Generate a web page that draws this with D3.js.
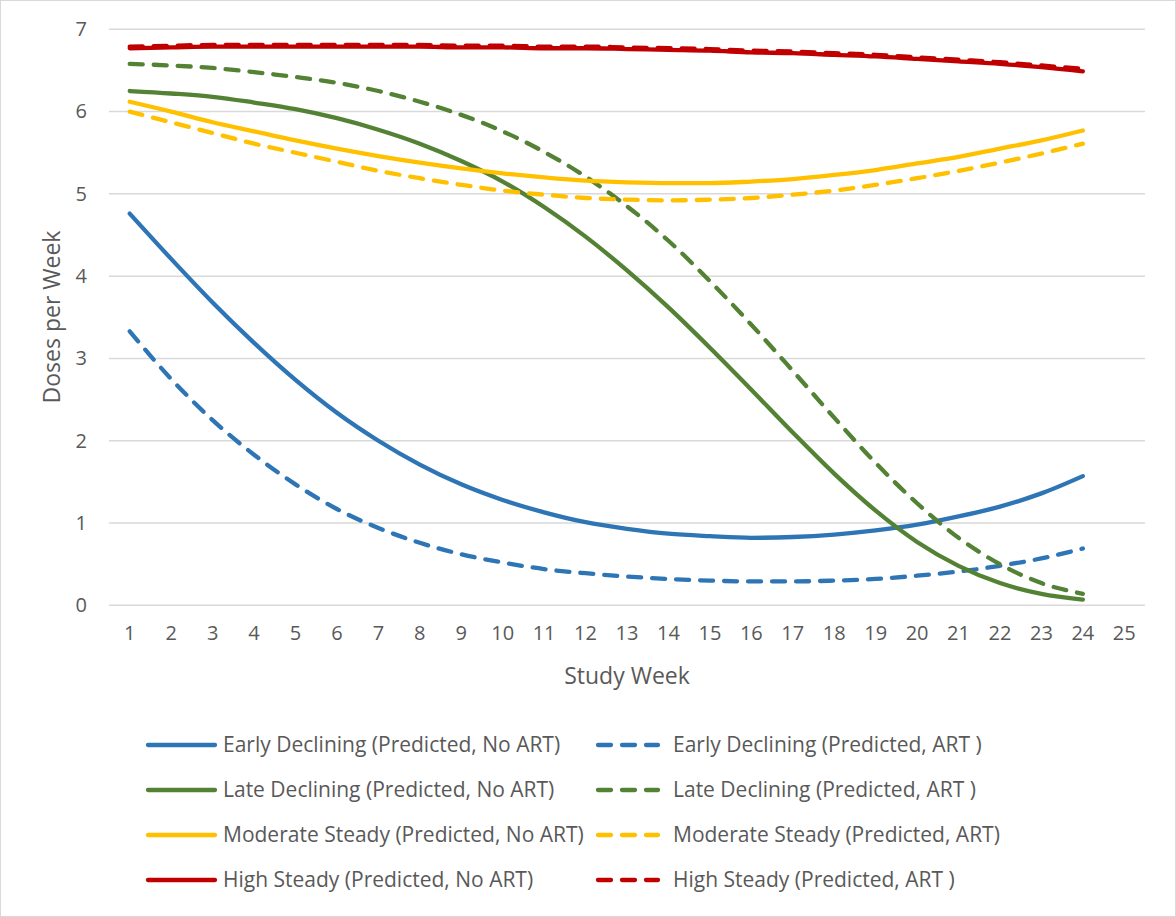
<!DOCTYPE html>
<html><head><meta charset="utf-8">
<script src="https://cdn.jsdelivr.net/npm/d3@7"></script>
<style>
html,body{margin:0;padding:0;background:#fff;}
svg{display:block;}
</style></head>
<body>
<svg id="chart" width="1176" height="917"></svg>
<script>
const weeks = d3.range(1, 26);
const yTicks = [0,1,2,3,4,5,6,7];

const earlyNoArt = [4.76,4.21,3.68,3.19,2.74,2.34,2.00,1.71,1.47,1.28,1.13,1.01,0.93,0.87,0.84,0.82,0.83,0.86,0.91,0.98,1.08,1.20,1.36,1.57];
const earlyArt   = [3.33,2.75,2.25,1.83,1.47,1.17,0.94,0.76,0.62,0.52,0.44,0.39,0.35,0.32,0.30,0.29,0.29,0.30,0.32,0.36,0.41,0.48,0.57,0.69];
const lateNoArt  = [6.25,6.22,6.18,6.11,6.03,5.92,5.78,5.61,5.40,5.15,4.84,4.48,4.07,3.62,3.13,2.62,2.10,1.60,1.15,0.77,0.48,0.27,0.14,0.07];
const lateArt    = [6.58,6.56,6.53,6.48,6.42,6.35,6.25,6.12,5.96,5.76,5.51,5.21,4.85,4.43,3.94,3.41,2.85,2.28,1.73,1.24,0.82,0.50,0.27,0.14];
const modNoArt   = [6.12,6.00,5.87,5.76,5.65,5.55,5.46,5.38,5.31,5.25,5.20,5.16,5.14,5.13,5.13,5.15,5.18,5.23,5.29,5.37,5.45,5.55,5.65,5.77];
const modArt     = [6.00,5.87,5.74,5.61,5.50,5.39,5.28,5.19,5.11,5.04,4.99,4.95,4.93,4.92,4.93,4.95,4.99,5.04,5.11,5.19,5.28,5.38,5.49,5.61];
const highNoArt  = [6.77,6.78,6.79,6.79,6.79,6.79,6.79,6.79,6.78,6.78,6.77,6.77,6.76,6.75,6.74,6.72,6.71,6.69,6.67,6.64,6.61,6.58,6.54,6.49];
const highArt    = [6.79,6.80,6.81,6.81,6.81,6.81,6.81,6.81,6.80,6.80,6.79,6.79,6.78,6.77,6.76,6.74,6.73,6.71,6.69,6.66,6.63,6.60,6.56,6.52];

const seriesNames = [
  "Early Declining (Predicted, No ART)","Early Declining (Predicted, ART )",
  "Late Declining (Predicted, No ART)","Late Declining (Predicted, ART )",
  "Moderate Steady (Predicted, No ART)","Moderate Steady (Predicted, ART)",
  "High Steady (Predicted, No ART)","High Steady (Predicted, ART )"
];
const seriesValues = [earlyNoArt, earlyArt, lateNoArt, lateArt, modNoArt, modArt, highNoArt, highArt];
const seriesColors = ["#2E75B6","#2E75B6","#548235","#548235","#FFC000","#FFC000","#C00000","#C00000"];
const seriesDashed = [false,true,false,true,false,true,false,true];

const svg = d3.select("#chart");
const font = "'Open Sans', sans-serif";
const txt = "#595959";

// outer border
svg.append("rect").attr("x",0.5).attr("y",0.5).attr("width",1175).attr("height",916)
  .attr("fill","#fff").attr("stroke","#d9d9d9").attr("stroke-width",1);

const plot = {left:109, right:1145, top:29.3, bottom:605.3};
const x = d3.scaleBand().domain(weeks).range([plot.left, plot.right]);
const y = d3.scaleLinear().domain([0,7]).range([plot.bottom, plot.top]);

// gridlines
svg.append("g").selectAll("line").data(yTicks).join("line")
  .attr("x1",plot.left).attr("x2",plot.right)
  .attr("y1",d=>y(d)).attr("y2",d=>y(d))
  .attr("stroke","#d9d9d9").attr("stroke-width",1.5);

// y axis labels
const yAxis = d3.axisLeft(y).tickValues(yTicks).tickFormat(d3.format("d")).tickSize(0).tickPadding(0);
const gy = svg.append("g").attr("transform",`translate(${87},0)`).call(yAxis);
gy.select(".domain").remove();
gy.selectAll("text").attr("fill",txt).style("font-family",font).style("font-size","20px");

// x axis labels
const xAxis = d3.axisBottom(x).tickSize(0).tickPadding(0);
const gx = svg.append("g").attr("transform",`translate(0,${plot.bottom+20})`).call(xAxis);
gx.select(".domain").remove();
gx.selectAll("text").attr("fill",txt).style("font-family",font).style("font-size","20px");

// axis titles
svg.append("text").attr("x",627).attr("y",684).attr("text-anchor","middle")
  .attr("fill",txt).style("font-family",font).style("font-size","23px").text("Study Week");
svg.append("text").attr("transform","translate(60,317) rotate(-90)").attr("text-anchor","middle")
  .attr("fill",txt).style("font-family",font).style("font-size","23px").text("Doses per Week");

// lines
const line = d3.line().x((d,i)=>x(weeks[i]) + x.bandwidth()/2).y(d=>y(d)).curve(d3.curveMonotoneX);
const lg = svg.append("g");
seriesValues.forEach((vals,k)=>{
  lg.append("path").datum(vals).attr("d",line)
    .attr("fill","none").attr("stroke",seriesColors[k]).attr("stroke-width",4.3)
    .attr("stroke-linecap","round").attr("stroke-linejoin","round")
    .attr("stroke-dasharray",seriesDashed[k] ? "13,11" : null);
});

// legend
const legCols = [{lx1:148, lx2:215, tx:223},{lx1:598, lx2:658, tx:673}];
const legRows = [745, 790, 835, 880];
const leg = svg.append("g");
seriesNames.forEach((name,k)=>{
  const c = legCols[k%2], ry = legRows[Math.floor(k/2)];
  leg.append("line").attr("x1",c.lx1).attr("x2",c.lx2).attr("y1",ry).attr("y2",ry)
    .attr("stroke",seriesColors[k]).attr("stroke-width",4.3).attr("stroke-linecap","round")
    .attr("stroke-dasharray",seriesDashed[k] ? "13,11" : null);
  leg.append("text").attr("x",c.tx).attr("y",ry).attr("dy","0.35em")
    .attr("fill",txt).style("font-family",font).style("font-size","21px").text(name);
});
</script>
</body></html>
